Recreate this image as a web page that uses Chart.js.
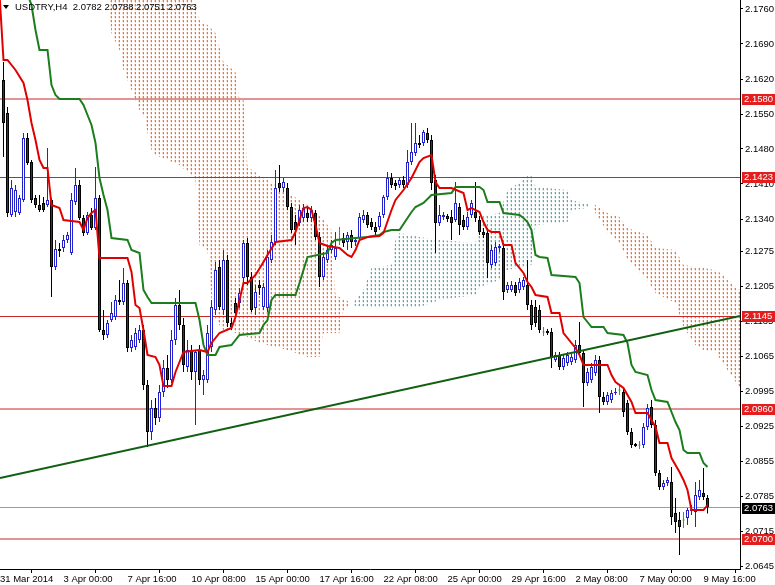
<!DOCTYPE html>
<html>
<head>
<meta charset="utf-8">
<title>USDTRY,H4</title>
<script src="https://cdn.jsdelivr.net/npm/chart.js@4.4.1/dist/chart.umd.min.js"></script>
<style>
  html, body { margin: 0; padding: 0; background: #fff; }
  #wrap { position: relative; width: 775px; height: 585px; }
  #head { position: absolute; left: 15px; top: 0; font: 9.5px "Liberation Sans", Arial, sans-serif; color: #000; white-space: pre; line-height: 14px; }
  #tri { position: absolute; left: 3px; top: 5px; width: 0; height: 0; border-left: 3.5px solid transparent; border-right: 3.5px solid transparent; border-top: 4px solid #000; }
</style>
</head>
<body>
<div id="wrap">
  <canvas id="c" width="775" height="585"></canvas>
  <span id="tri"></span>
  <div id="head"></div>
</div>
<script>
// === USDTRY H4 : candles, Ichimoku lines + cloud, drawn levels ===

const symbolName = 'USDTRY,H4';

// candles, bar index starts at barStart (one bar = 4 hours)
const barStart = 2;
const openP = [
  2.1618, 2.1552, 2.1348, 2.1354, 2.1352, 2.1378, 2.1502, 2.1454, 2.1382, 2.1368,
  2.1372, 2.1368, 2.1378, 2.1244, 2.1280, 2.1282, 2.1298, 2.1272, 2.1374, 2.1408,
  2.1342, 2.1312, 2.1348, 2.1322, 2.1382, 2.1118, 2.1108, 2.1138, 2.1144, 2.1178,
  2.1174, 2.1212, 2.1082, 2.1084, 2.1098, 2.1118, 2.1008, 2.0914, 2.0962, 2.0942,
  2.0994, 2.1042, 2.1018, 2.1098, 2.1168, 2.1128, 2.1044, 2.1078, 2.1034, 2.1078,
  2.1018, 2.1018, 2.1084, 2.1158, 2.1244, 2.1158, 2.1258, 2.1132, 2.1172, 2.1172,
  2.1222, 2.1292, 2.1224, 2.1162, 2.1208, 2.1164, 2.1162, 2.1258, 2.1294, 2.1412,
  2.1402, 2.1402, 2.1364, 2.1334, 2.1332, 2.1342, 2.1352, 2.1342, 2.1352, 2.1304,
  2.1224, 2.1258, 2.1278, 2.1264, 2.1298, 2.1302, 2.1294, 2.1308, 2.1294, 2.1302,
  2.1338, 2.1348, 2.1334, 2.1324, 2.1324, 2.1348, 2.1384, 2.1422, 2.1412, 2.1408,
  2.1418, 2.1408, 2.1454, 2.1472, 2.1492, 2.1492, 2.1512, 2.1498, 2.1418, 2.1332,
  2.1344, 2.1346, 2.1344, 2.1338, 2.1364, 2.1338, 2.1324, 2.1348, 2.1354, 2.1338,
  2.1314, 2.1312, 2.1248, 2.1252, 2.1282, 2.1282, 2.1198, 2.1198, 2.1208, 2.1198,
  2.1204, 2.1208, 2.1168, 2.1164, 2.1158, 2.1114, 2.1116, 2.1114, 2.1058, 2.1068,
  2.1044, 2.1052, 2.1054, 2.1058, 2.1088, 2.1072, 2.1012, 2.1018, 2.1032, 2.1058,
  2.0984, 2.0974, 2.0978, 2.0992, 2.0998, 2.0994, 2.0972, 2.0914, 2.0890, 2.0888,
  2.0888, 2.0924, 2.0964, 2.0928, 2.0832, 2.0804, 2.0812, 2.0814, 2.0752, 2.0738,
  2.0738, 2.0742, 2.0756, 2.0754, 2.0784, 2.0792, 2.0782
];
const highP = [
  2.1654, 2.1564, 2.1418, 2.1408, 2.1388, 2.1512, 2.1512, 2.1458, 2.1388, 2.1388,
  2.1384, 2.1482, 2.1382, 2.1298, 2.1292, 2.1308, 2.1314, 2.1392, 2.1442, 2.1418,
  2.1348, 2.1354, 2.1362, 2.1444, 2.1388, 2.1158, 2.1138, 2.1174, 2.1188, 2.1218,
  2.1242, 2.1218, 2.1108, 2.1122, 2.1128, 2.1128, 2.1018, 2.0978, 2.0982, 2.1008,
  2.1058, 2.1068, 2.1118, 2.1182, 2.1198, 2.1142, 2.1098, 2.1088, 2.1078, 2.1088,
  2.1038, 2.1128, 2.1178, 2.1254, 2.1258, 2.1278, 2.1268, 2.1142, 2.1182, 2.1202,
  2.1298, 2.1302, 2.1234, 2.1208, 2.1218, 2.1212, 2.1278, 2.1308, 2.1438, 2.1448,
  2.1422, 2.1412, 2.1372, 2.1348, 2.1368, 2.1370, 2.1362, 2.1366, 2.1358, 2.1314,
  2.1274, 2.1288, 2.1298, 2.1314, 2.1324, 2.1312, 2.1314, 2.1318, 2.1302, 2.1352,
  2.1358, 2.1354, 2.1342, 2.1334, 2.1354, 2.1388, 2.1434, 2.1432, 2.1418, 2.1422,
  2.1426, 2.1478, 2.1532, 2.1532, 2.1508, 2.1518, 2.1522, 2.1508, 2.1428, 2.1368,
  2.1354, 2.1350, 2.1358, 2.1414, 2.1372, 2.1348, 2.1354, 2.1378, 2.1414, 2.1346,
  2.1322, 2.1322, 2.1288, 2.1294, 2.1290, 2.1290, 2.1214, 2.1216, 2.1214, 2.1222,
  2.1224, 2.1258, 2.1178, 2.1178, 2.1168, 2.1124, 2.1120, 2.1122, 2.1074, 2.1074,
  2.1068, 2.1074, 2.1070, 2.1098, 2.1134, 2.1078, 2.1042, 2.1052, 2.1068, 2.1066,
  2.0994, 2.0994, 2.0998, 2.1002, 2.1008, 2.1002, 2.0978, 2.0922, 2.0892, 2.0896,
  2.0932, 2.0970, 2.0978, 2.0938, 2.0838, 2.0818, 2.0824, 2.0844, 2.0782, 2.0754,
  2.0754, 2.0762, 2.0768, 2.0814, 2.0818, 2.0842, 2.0788
];
const lowP = [
  2.1464, 2.1344, 2.1344, 2.1344, 2.1348, 2.1374, 2.1448, 2.1372, 2.1362, 2.1354,
  2.1354, 2.1364, 2.1184, 2.1238, 2.1264, 2.1274, 2.1292, 2.1268, 2.1368, 2.1338,
  2.1306, 2.1308, 2.1318, 2.1318, 2.1114, 2.1098, 2.1102, 2.1134, 2.1138, 2.1168,
  2.1168, 2.1074, 2.1074, 2.1078, 2.1092, 2.0998, 2.0884, 2.0898, 2.0928, 2.0934,
  2.0984, 2.1002, 2.1012, 2.1088, 2.1118, 2.1034, 2.1034, 2.1018, 2.0928, 2.1008,
  2.0988, 2.1012, 2.1074, 2.1148, 2.1158, 2.1148, 2.1124, 2.1118, 2.1142, 2.1162,
  2.1214, 2.1208, 2.1154, 2.1148, 2.1188, 2.1158, 2.1154, 2.1252, 2.1288, 2.1394,
  2.1394, 2.1358, 2.1312, 2.1288, 2.1326, 2.1334, 2.1334, 2.1334, 2.1298, 2.1204,
  2.1218, 2.1252, 2.1272, 2.1258, 2.1288, 2.1284, 2.1278, 2.1282, 2.1286, 2.1298,
  2.1332, 2.1322, 2.1318, 2.1308, 2.1318, 2.1342, 2.1378, 2.1402, 2.1398, 2.1402,
  2.1402, 2.1402, 2.1448, 2.1466, 2.1482, 2.1486, 2.1492, 2.1398, 2.1272, 2.1326,
  2.1338, 2.1334, 2.1298, 2.1334, 2.1308, 2.1318, 2.1318, 2.1342, 2.1334, 2.1308,
  2.1302, 2.1222, 2.1242, 2.1246, 2.1274, 2.1178, 2.1192, 2.1194, 2.1186, 2.1192,
  2.1198, 2.1158, 2.1118, 2.1124, 2.1112, 2.1106, 2.1108, 2.1042, 2.1054, 2.1038,
  2.1038, 2.1046, 2.1048, 2.1052, 2.1066, 2.0964, 2.1006, 2.1012, 2.1026, 2.0952,
  2.0968, 2.0968, 2.0972, 2.0988, 2.0988, 2.0944, 2.0908, 2.0882, 2.0884, 2.0880,
  2.0882, 2.0918, 2.0922, 2.0826, 2.0798, 2.0798, 2.0806, 2.0728, 2.0712, 2.0668,
  2.0722, 2.0728, 2.0748, 2.0724, 2.0778, 2.0778, 2.0751
];
const closeP = [
  2.1532, 2.1352, 2.1402, 2.1398, 2.1382, 2.1502, 2.1452, 2.1378, 2.1368, 2.1358,
  2.1358, 2.1378, 2.1244, 2.1280, 2.1276, 2.1298, 2.1308, 2.1378, 2.1408, 2.1342,
  2.1312, 2.1348, 2.1322, 2.1382, 2.1118, 2.1108, 2.1132, 2.1152, 2.1178, 2.1174,
  2.1212, 2.1082, 2.1098, 2.1112, 2.1118, 2.1008, 2.0914, 2.0962, 2.0942, 2.0994,
  2.1042, 2.1018, 2.1098, 2.1168, 2.1128, 2.1048, 2.1078, 2.1034, 2.1074, 2.1018,
  2.1028, 2.1112, 2.1164, 2.1238, 2.1164, 2.1258, 2.1132, 2.1124, 2.1152, 2.1192,
  2.1292, 2.1224, 2.1158, 2.1194, 2.1202, 2.1204, 2.1264, 2.1294, 2.1402, 2.1402,
  2.1414, 2.1364, 2.1318, 2.1318, 2.1358, 2.1362, 2.1342, 2.1358, 2.1304, 2.1224,
  2.1264, 2.1278, 2.1288, 2.1282, 2.1298, 2.1292, 2.1308, 2.1294, 2.1298, 2.1344,
  2.1348, 2.1328, 2.1324, 2.1314, 2.1346, 2.1384, 2.1422, 2.1408, 2.1406, 2.1418,
  2.1408, 2.1454, 2.1474, 2.1492, 2.1488, 2.1514, 2.1498, 2.1412, 2.1332, 2.1348,
  2.1348, 2.1340, 2.1332, 2.1372, 2.1328, 2.1324, 2.1344, 2.1372, 2.1342, 2.1314,
  2.1308, 2.1252, 2.1278, 2.1284, 2.1286, 2.1194, 2.1208, 2.1208, 2.1192, 2.1214,
  2.1218, 2.1168, 2.1128, 2.1132, 2.1118, 2.1114, 2.1112, 2.1062, 2.1068, 2.1044,
  2.1062, 2.1068, 2.1064, 2.1088, 2.1072, 2.1012, 2.1034, 2.1044, 2.1058, 2.0984,
  2.0974, 2.0988, 2.0992, 2.0994, 2.0998, 2.0954, 2.0914, 2.0888, 2.0886, 2.0888,
  2.0924, 2.0962, 2.0928, 2.0832, 2.0804, 2.0812, 2.0818, 2.0744, 2.0734, 2.0724,
  2.0738, 2.0758, 2.0760, 2.0788, 2.0798, 2.0784, 2.0763
];

// Ichimoku lines [bar, price]
const tenkan = [
  [1, 2.1790], [2, 2.1658], [3, 2.1658], [5, 2.1638], [7, 2.1612], [8, 2.1578], [9, 2.1532],
  [10, 2.1498], [11, 2.1458], [12, 2.1442], [13, 2.1442], [14, 2.1368], [16, 2.1362],
  [17, 2.1338], [21, 2.1334], [22, 2.1318], [23, 2.1342], [24, 2.1352], [25, 2.1358],
  [26, 2.1262], [33, 2.1262], [34, 2.1234], [35, 2.1168], [36, 2.1162], [37, 2.1118],
  [38, 2.1068], [40, 2.1064], [41, 2.1048], [42, 2.1006], [44, 2.1006], [45, 2.1034],
  [46, 2.1054], [47, 2.1074], [51, 2.1078], [53, 2.1074], [54, 2.1092], [56, 2.1112],
  [59, 2.1122], [60, 2.1144], [62, 2.1212], [63, 2.1212], [65, 2.1228], [67, 2.1254],
  [68, 2.1268], [70, 2.1294], [74, 2.1298], [75, 2.1314], [76, 2.1338], [77, 2.1362],
  [78, 2.1364], [79, 2.1358], [80, 2.1328], [81, 2.1292], [83, 2.1286], [86, 2.1282],
  [88, 2.1268], [89, 2.1264], [90, 2.1278], [91, 2.1298], [93, 2.1304], [96, 2.1306],
  [97, 2.1312], [99, 2.1358], [100, 2.1378], [102, 2.1398], [104, 2.1422], [106, 2.1454],
  [107, 2.1462], [109, 2.1468], [110, 2.1414], [111, 2.1402], [114, 2.1402], [117, 2.1392],
  [118, 2.1358], [119, 2.1362], [121, 2.1354], [122, 2.1334], [123, 2.1318], [124, 2.1314],
  [126, 2.1314], [127, 2.1288], [129, 2.1288], [130, 2.1252], [132, 2.1232], [133, 2.1214],
  [134, 2.1204], [135, 2.1188], [138, 2.1184], [139, 2.1152], [141, 2.1152], [142, 2.1112],
  [144, 2.1092], [145, 2.1082], [146, 2.1068], [147, 2.1048], [153, 2.1048], [154, 2.1028],
  [155, 2.1014], [157, 2.1002], [159, 2.0974], [160, 2.0952], [163, 2.0952], [165, 2.0924],
  [166, 2.0892], [168, 2.0892], [169, 2.0862], [170, 2.0848], [171, 2.0834], [172, 2.0818],
  [173, 2.0798], [174, 2.0758], [177, 2.0758], [178, 2.0768]
];
const kijun = [
  [8, 2.1790], [9, 2.1768], [10, 2.1718], [11, 2.1678], [13, 2.1678], [14, 2.1608],
  [15, 2.1588], [16, 2.1580], [21, 2.1580], [22, 2.1568], [23, 2.1548], [24, 2.1528],
  [25, 2.1492], [26, 2.1422], [27, 2.1388], [28, 2.1358], [29, 2.1302], [33, 2.1298],
  [34, 2.1278], [36, 2.1272], [37, 2.1198], [38, 2.1184], [39, 2.1172], [50, 2.1172],
  [51, 2.1138], [52, 2.1088], [53, 2.1068], [55, 2.1068], [56, 2.1084], [59, 2.1088],
  [61, 2.1108], [66, 2.1112], [67, 2.1128], [68, 2.1138], [69, 2.1178], [70, 2.1188],
  [75, 2.1188], [76, 2.1212], [77, 2.1238], [78, 2.1264], [83, 2.1272], [84, 2.1292],
  [85, 2.1298], [90, 2.1302], [93, 2.1304], [96, 2.1308], [97, 2.1314], [99, 2.1318],
  [101, 2.1318], [103, 2.1342], [104, 2.1354], [105, 2.1364], [107, 2.1372], [109, 2.1388],
  [114, 2.1392], [115, 2.1404], [121, 2.1404], [122, 2.1398], [123, 2.1374], [126, 2.1374],
  [127, 2.1352], [131, 2.1348], [132, 2.1342], [133, 2.1334], [134, 2.1318], [135, 2.1268],
  [136, 2.1264], [138, 2.1262], [139, 2.1228], [145, 2.1224], [146, 2.1212], [147, 2.1144],
  [148, 2.1134], [149, 2.1124], [152, 2.1124], [153, 2.1112], [157, 2.1108], [158, 2.1092],
  [159, 2.1048], [160, 2.1034], [163, 2.1028], [164, 2.0998], [165, 2.0978], [168, 2.0974],
  [169, 2.0954], [170, 2.0934], [171, 2.0918], [172, 2.0878], [173, 2.0872], [176, 2.0872],
  [177, 2.0852], [178, 2.0844]
];

// cloud edges [bar, price] : three parts (down, up, down)
const cloudDownTop1 = [
  [28, 2.1790], [49, 2.1790], [51, 2.1738], [53, 2.1728], [55, 2.1712], [57, 2.1654],
  [60, 2.1634], [61, 2.1578], [62, 2.1578], [63, 2.1444], [66, 2.1428], [72, 2.1398],
  [78, 2.1368], [82, 2.1338], [84, 2.1318], [85, 2.1188], [89, 2.1172]
];
const cloudDownBottom1 = [
  [28, 2.1782], [29, 2.1712], [31, 2.1678], [32, 2.1638], [34, 2.1598], [36, 2.1558],
  [37, 2.1548], [39, 2.1478], [40, 2.1468], [46, 2.1448], [48, 2.1434], [50, 2.1418],
  [51, 2.1288], [53, 2.1278], [54, 2.1178], [55, 2.1138], [57, 2.1118], [62, 2.1108],
  [66, 2.1092], [73, 2.1078], [78, 2.1064], [81, 2.1064], [82, 2.1112], [86, 2.1112],
  [87, 2.1158], [89, 2.1172]
];
const cloudUpTop = [
  [89, 2.1172], [90, 2.1178], [92, 2.1198], [94, 2.1242], [99, 2.1248], [100, 2.1298],
  [101, 2.1312], [106, 2.1304], [111, 2.1298], [120, 2.1292], [121, 2.1344], [126, 2.1352],
  [128, 2.1398], [132, 2.1418], [133, 2.1426], [134, 2.1426], [135, 2.1404], [143, 2.1398],
  [144, 2.1378], [148, 2.1370], [149, 2.1364]
];
const cloudUpBottom = [
  [89, 2.1172], [90, 2.1166], [94, 2.1164], [106, 2.1164], [111, 2.1178], [120, 2.1188],
  [121, 2.1204], [126, 2.1218], [128, 2.1238], [134, 2.1248], [135, 2.1328], [143, 2.1334],
  [144, 2.1358], [148, 2.1362], [149, 2.1364]
];
const cloudDownTop2 = [
  [149, 2.1364], [150, 2.1368], [153, 2.1352], [156, 2.1344], [158, 2.1322], [163, 2.1308],
  [165, 2.1282], [170, 2.1278], [172, 2.1248], [177, 2.1242], [180, 2.1238], [182, 2.1228],
  [184, 2.1212], [186, 2.1198], [187, 2.1196]
];
const cloudDownBottom2 = [
  [149, 2.1364], [150, 2.1352], [153, 2.1314], [156, 2.1292], [158, 2.1258], [163, 2.1218],
  [165, 2.1192], [170, 2.1172], [172, 2.1124], [175, 2.1088], [177, 2.1078], [180, 2.1074],
  [183, 2.1038], [186, 2.1004], [187, 2.0998]
];

// drawn objects
const levelPrices = [2.1580, 2.1423, 2.1145, 2.0960, 2.0700];
const lastPrice = closeP[closeP.length - 1];
const trendBars = [1.125, 186.125];
const trendPrices = [2.0822, 2.1146];

// axes
const viewFirst = 1.125, viewLast = 186.125;
const priceMin = 2.0640, priceMax = 2.1778;
const priceTicks = [2.1760, 2.1690, 2.1620, 2.1550, 2.1480, 2.1410, 2.1340, 2.1275, 2.1205,
  2.1135, 2.1065, 2.0995, 2.0925, 2.0855, 2.0785, 2.0715, 2.0645];
const timeLabels = ['31 Mar 2014', '3 Apr 00:00', '7 Apr 16:00', '10 Apr 08:00', '15 Apr 00:00',
  '17 Apr 16:00', '22 Apr 08:00', '25 Apr 00:00', '29 Apr 16:00', '2 May 08:00', '7 May 00:00', '9 May 16:00'];
const timeTickBars = [1.125, 17, 33, 49, 65, 81, 97, 113, 129, 145, 161, 177];

// === header ===
const last = openP.length - 1;
document.getElementById('head').textContent = symbolName + '  ' +
  [openP[last], highP[last], lowP[last], closeP[last]].map(v => v.toFixed(4)).join(' ');

// === helpers ===
const FONT = '"Liberation Sans", Arial, sans-serif';
Chart.defaults.font.family = FONT;
Chart.defaults.font.size = 9.5;
Chart.defaults.color = '#000';

const canvas = document.getElementById('c');
const mainCtx = canvas.getContext('2d');

function dots(core, halo) {
  // vertical dotted columns, one per bar (4 px apart)
  const tile = document.createElement('canvas');
  tile.width = 4; tile.height = 4;
  const g = tile.getContext('2d');
  g.fillStyle = halo;
  g.fillRect(2, 0, 1, 2);
  g.fillRect(3, 2, 1, 1);
  g.fillStyle = core;
  g.fillRect(3, 0, 1, 2);
  return mainCtx.createPattern(tile, 'repeat');
}
const pts = arr => arr.map(([x, y]) => ({ x, y }));
const flatLine = p => [{ x: viewFirst, y: p }, { x: viewLast, y: p }];

const orangeDots = dots('#e8784a', 'rgba(244,170,130,0.5)');
const tealDots = dots('#6aa6a2', 'rgba(160,200,198,0.5)');

const bars = openP.map((_, k) => barStart + k);
const kind = bars.map((_, k) => closeP[k] > openP[k] ? 'up' : (closeP[k] < openP[k] ? 'down' : 'flat'));
const wickColor = { up: '#2222cc', down: '#000000', flat: '#22aa22' };
const bodyFill = { up: '#ffffff', down: '#7a1a1a', flat: '#22aa22' };
const bodyEdge = { up: '#2222cc', down: '#000000', flat: '#22aa22' };
const flatHalf = 0.0001;

const lineBase = { type: 'line', pointRadius: 0, tension: 0, fill: false };
const cloudEdge = (data, fill, bg, order) => Object.assign({}, lineBase, {
  data: pts(data), fill, backgroundColor: bg, borderColor: 'rgba(0,0,0,0)', borderWidth: 0, order
});

// === label tags on the price axis ===
const levelTags = {
  id: 'levelTags',
  afterDraw(chart) {
    const { ctx, chartArea, scales: { y } } = chart;
    ctx.save();
    ctx.font = '9.5px ' + FONT;
    ctx.textBaseline = 'middle';
    const tag = (v, bg) => {
      const py = Math.round(y.getPixelForValue(v));
      ctx.fillStyle = bg;
      ctx.fillRect(chartArea.right + 2, py - 5, chart.width - chartArea.right - 2, 11);
      ctx.fillStyle = '#fff';
      ctx.fillText(v.toFixed(4), chartArea.right + 4, py + 0.5);
    };
    levelPrices.forEach(v => tag(v, '#e41e1e'));
    tag(lastPrice, '#000');
    ctx.restore();
  }
};

// === chart ===
new Chart(canvas, {
  type: 'line',
  data: {
    datasets: [
      cloudEdge(cloudDownTop1, '+1', orangeDots, 20),
      cloudEdge(cloudDownBottom1, false, 'rgba(0,0,0,0)', 21),
      cloudEdge(cloudUpTop, '+1', tealDots, 20),
      cloudEdge(cloudUpBottom, false, 'rgba(0,0,0,0)', 21),
      cloudEdge(cloudDownTop2, '+1', orangeDots, 20),
      cloudEdge(cloudDownBottom2, false, 'rgba(0,0,0,0)', 21),

      ...levelPrices.map(p => Object.assign({}, lineBase, {
        data: flatLine(p), borderColor: '#c62828', borderWidth: 1, order: 12
      })),
      Object.assign({}, lineBase, { data: flatLine(lastPrice), borderColor: '#9c9c9c', borderWidth: 1, order: 12 }),

      {
        type: 'bar',
        data: bars.map((x, k) => ({ x, y: [lowP[k], highP[k]] })),
        backgroundColor: kind.map(t => wickColor[t]),
        barThickness: 1, grouped: false, inflateAmount: 0, borderWidth: 0, order: 6
      },
      {
        type: 'bar',
        data: bars.map((x, k) => ({
          x, y: kind[k] === 'flat' ? [closeP[k] - flatHalf, closeP[k] + flatHalf] : [openP[k], closeP[k]]
        })),
        backgroundColor: kind.map(t => bodyFill[t]),
        borderColor: kind.map(t => bodyEdge[t]),
        borderWidth: 1, borderSkipped: false,
        barThickness: 3, grouped: false, inflateAmount: 0, order: 5
      },

      Object.assign({}, lineBase, { data: pts(tenkan), borderColor: '#e00000', borderWidth: 2, order: 3 }),
      Object.assign({}, lineBase, { data: pts(kijun), borderColor: '#1b7d1b', borderWidth: 2, order: 3 }),
      Object.assign({}, lineBase, {
        data: trendBars.map((x, k) => ({ x, y: trendPrices[k] })),
        borderColor: '#115f11', borderWidth: 2, order: 2
      })
    ]
  },
  options: {
    responsive: false,
    animation: false,
    devicePixelRatio: 1,
    events: [],
    layout: { padding: 0 },
    plugins: { legend: { display: false }, tooltip: { enabled: false } },
    scales: {
      x: {
        type: 'linear', min: viewFirst, max: viewLast, offset: false,
        grid: { drawOnChartArea: false, drawTicks: true, tickLength: 4, color: '#000' },
        border: { display: true, color: '#000' },
        ticks: { autoSkip: false, maxRotation: 0, align: 'start', padding: 1, color: '#000',
                 callback: (v, k) => timeLabels[k] },
        afterBuildTicks: s => { s.ticks = timeTickBars.map(v => ({ value: v })); },
        afterFit: s => { s.height = 16; s.paddingLeft = 0; s.paddingRight = 0; }
      },
      y: {
        type: 'linear', position: 'right', min: priceMin, max: priceMax,
        grid: { drawOnChartArea: false, drawTicks: true, tickLength: 3, color: '#000' },
        border: { display: true, color: '#000' },
        ticks: { autoSkip: false, padding: 2, color: '#000', callback: v => v.toFixed(4) },
        afterBuildTicks: s => { s.ticks = priceTicks.map(v => ({ value: v })); },
        afterFit: s => { s.width = 35; s.paddingTop = 0; s.paddingBottom = 0; }
      }
    }
  },
  plugins: [levelTags]
});
</script>
</body>
</html>
